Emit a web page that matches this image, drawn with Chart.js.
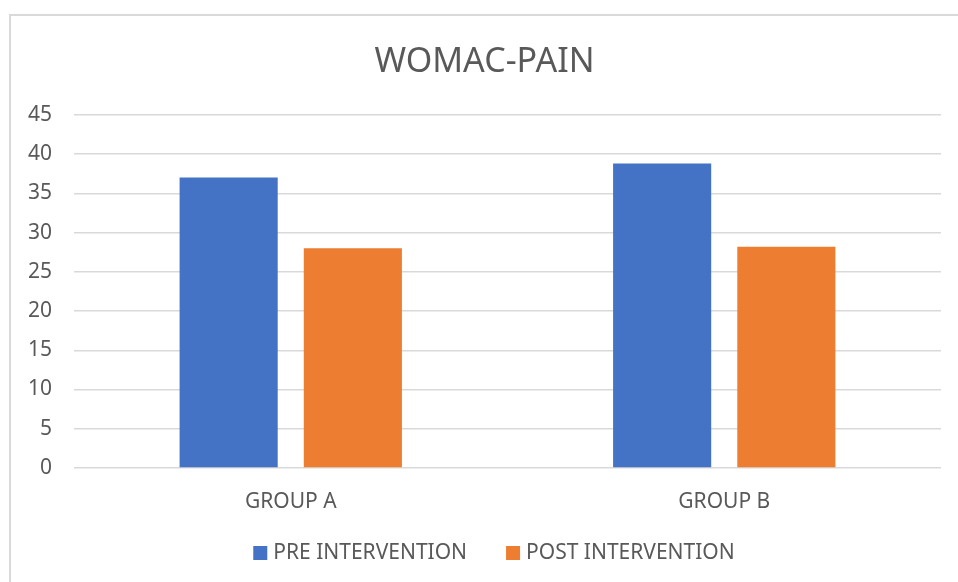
<!DOCTYPE html>
<html>
<head>
<meta charset="utf-8">
<script src="https://cdn.jsdelivr.net/npm/chart.js@4"></script>
<style>
  html, body { margin: 0; padding: 0; background: #fff; }
  #wrap { position: relative; width: 958px; height: 582px; }
  #frame { position: absolute; left: 9px; top: 14px; right: 0; bottom: 0;
           border-top: 2px solid #d9d9d9; border-left: 2px solid #d9d9d9; }
  canvas { position: absolute; left: 0; top: 0; }
</style>
</head>
<body>
<div id="wrap">
  <div id="frame"></div>
  <canvas id="myChart" width="958" height="582"></canvas>
</div>
<script>
var groups = ["GROUP A", "GROUP B"];
var preValues = [37, 38.8];
var postValues = [28, 28.2];
var yTicks = [0, 5, 10, 15, 20, 25, 30, 35, 40, 45];

var textColor = "#595959";
var fontFamily = "'Noto Sans', 'Open Sans', sans-serif";
var textSize = 21;

// legend drawn by hand: small gap box->text, Excel-like spacing
var bottomLegend = {
  id: "bottomLegend",
  afterDraw: function(chart) {
    var ctx = chart.ctx;
    var sets = chart.data.datasets;
    var box = 14, gap = 6, itemGap = 39;
    ctx.save();
    ctx.font = textSize + "px " + fontFamily;
    ctx.textBaseline = "middle";
    var widths = sets.map(function(ds) { return box + gap + ctx.measureText(ds.label).width; });
    var total = widths.reduce(function(a, b) { return a + b; }, 0) + itemGap * (sets.length - 1);
    var x = chart.width / 2 + 15 - total / 2;
    var y = 553;
    sets.forEach(function(ds, i) {
      ctx.fillStyle = ds.backgroundColor;
      ctx.fillRect(x, y - box / 2, box, box);
      ctx.fillStyle = textColor;
      ctx.fillText(ds.label, x + box + gap, y);
      x += widths[i] + itemGap;
    });
    ctx.restore();
  }
};

function getGraph() {
  var ctx = document.getElementById("myChart").getContext("2d");
  var chart = new Chart(ctx, {
    type: "bar",
    data: {
      labels: groups,
      datasets: [{
        label: "PRE INTERVENTION",
        backgroundColor: "#4472C4",
        data: preValues
      }, {
        label: "POST INTERVENTION",
        backgroundColor: "#ED7D31",
        data: postValues
      }]
    },
    options: {
      responsive: false,
      animation: false,
      categoryPercentage: 0.573,
      barPercentage: 0.79,
      layout: { padding: { top: 15, left: 28, right: 17, bottom: 64 } },
      plugins: {
        title: {
          display: true,
          text: "WOMAC-PAIN",
          color: textColor,
          font: { family: fontFamily, size: 34, weight: "normal" },
          padding: { top: 27, bottom: 32 }
        },
        legend: { display: false },
        tooltip: { enabled: false }
      },
      scales: {
        x: {
          grid: { display: false, drawTicks: false },
          border: { display: false },
          ticks: { color: textColor, font: { family: fontFamily, size: textSize }, padding: 21 },
          afterFit: function(axis) { axis.height = 50; }
        },
        y: {
          min: 0,
          max: 45,
          afterBuildTicks: function(axis) {
            axis.ticks = yTicks.map(function(v) { return { value: v }; });
          },
          grid: { color: "#d9d9d9", lineWidth: 1.5, drawTicks: false },
          border: { display: false },
          ticks: { color: textColor, font: { family: fontFamily, size: textSize }, padding: 22 },
          afterFit: function(axis) { axis.width = 46; }
        }
      }
    },
    plugins: [bottomLegend]
  });
}

getGraph();
</script>
</body>
</html>
